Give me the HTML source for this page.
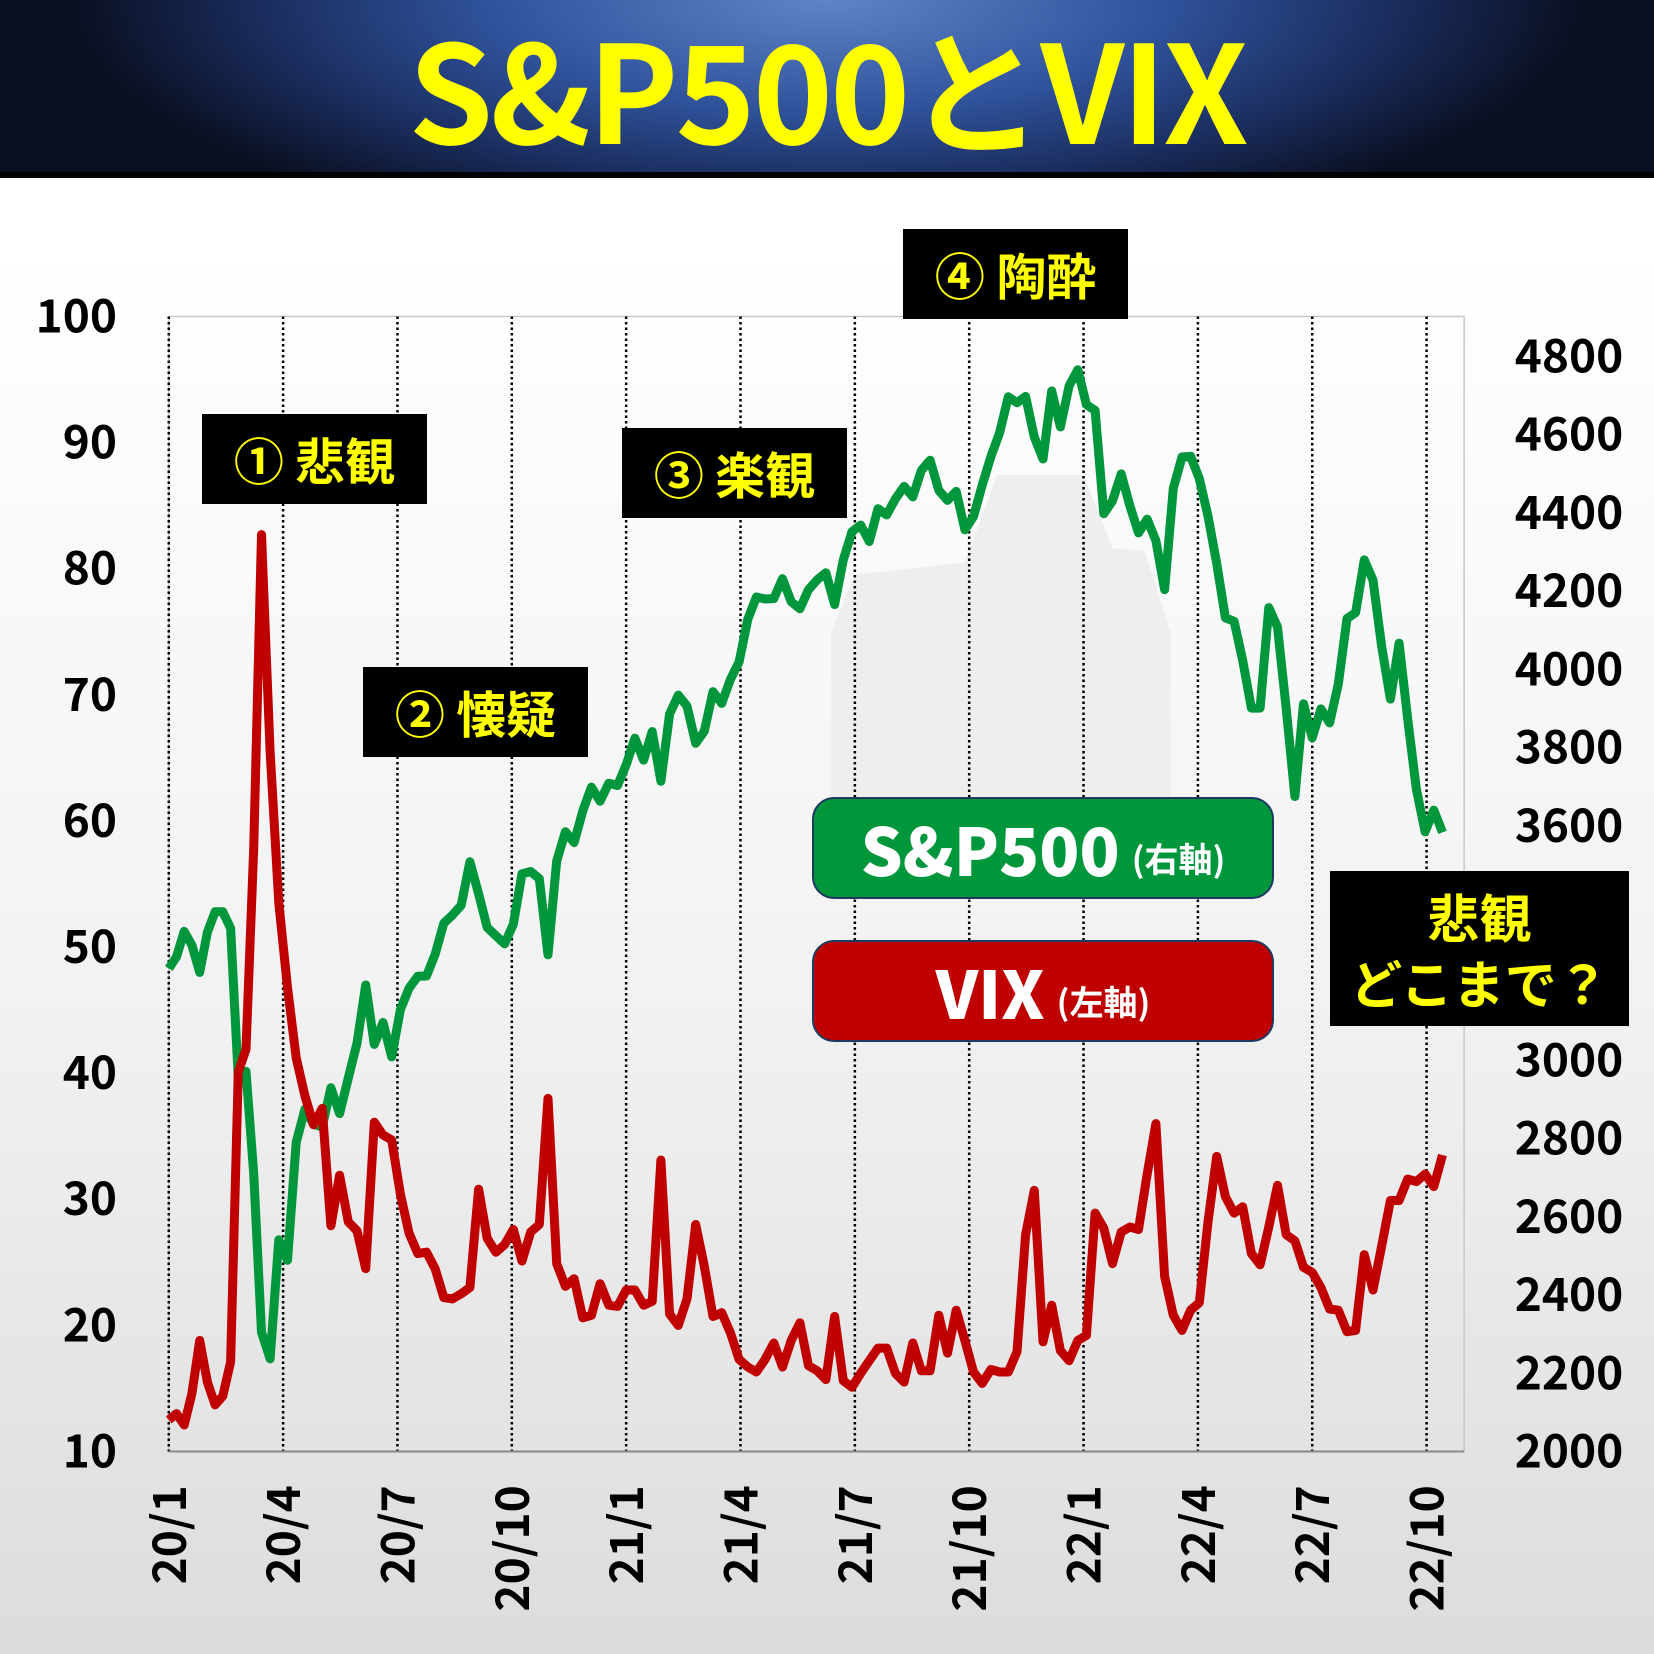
<!DOCTYPE html>
<html><head><meta charset="utf-8">
<style>
html,body{margin:0;padding:0}
body{width:1654px;height:1654px;overflow:hidden;background:linear-gradient(#ffffff 15%,#f2f2f2 60%,#dcdcdc 100%);font-family:"Noto Sans CJK JP","Liberation Sans",sans-serif;position:relative}
#banner{position:absolute;left:0;top:0;width:1654px;height:178px;background:radial-gradient(ellipse 760px 250px at 827px 0px,#6084c8 0%,#2f529b 45%,#1a2c5c 75%,#0a0f20 100%);border-bottom:6px solid #000;box-sizing:border-box}
#title{position:absolute;left:0;width:1654px;top:-4px;text-align:center;color:#ffff00;font-weight:bold;font-size:136px;line-height:180px;letter-spacing:-3px}
.ann{position:absolute;background:#000;color:#ffff00;font-weight:bold;font-size:50px;display:flex;align-items:center;justify-content:center;text-align:center;line-height:62px}
.leg{position:absolute;left:812px;width:462px;height:102px;border-radius:22px;color:#fff;font-weight:bold;display:flex;align-items:center;justify-content:center;box-sizing:border-box;border:2px solid #1f3a60}
.leg b{font-size:66px}.leg span{font-size:34px;margin-left:12px;margin-top:18px}
</style></head><body>
<div id="banner"><div id="title">S&amp;P500とVIX</div></div>
<svg id="chart" width="1654" height="1654" style="position:absolute;left:0;top:0"></svg>
<div class="ann" style="left:202px;top:414px;width:225px;height:90px">① 悲観</div>
<div class="ann" style="left:363px;top:667px;width:225px;height:90px">② 懐疑</div>
<div class="ann" style="left:622px;top:428px;width:225px;height:90px">③ 楽観</div>
<div class="ann" style="left:903px;top:229px;width:225px;height:90px">④ 陶酔</div>
<div class="ann" style="left:1330px;top:871px;width:299px;height:155px;font-size:52px;line-height:66px">悲観<br>どこまで？</div>
<div class="leg" style="top:797px;background:#00963c"><b>S&amp;P500</b><span>(右軸)</span></div>
<div class="leg" style="top:940px;background:#c00000"><b>VIX</b><span>(左軸)</span></div>
<script>
const xLabels=["20/1","20/4","20/7","20/10","21/1","21/4","21/7","21/10","22/1","22/4","22/7","22/10"];
const leftTicks=[10,20,30,40,50,60,70,80,90,100];
const rightTicks=[2000,2200,2400,2600,2800,3000,3200,3400,3600,3800,4000,4200,4400,4600,4800];
const sp500=[3235,3265,3330,3295,3225,3328,3380,3380,3338,2954,2972,2711,2305,2237,2541,2489,2790,2875,2837,2830,2930,2864,2955,3044,3193,3041,3097,3009,3130,3185,3215,3216,3271,3351,3372,3397,3508,3426,3340,3319,3298,3348,3477,3483,3465,3270,3510,3585,3557,3638,3699,3663,3709,3703,3756,
3824,3768,3841,3714,3886,3934,3906,3811,3842,3943,3913,3974,4019,4128,4185,4180,4181,4232,4173,4155,4204,4229,4247,4166,4280,4352,4369,4327,4411,4395,4436,4468,4441,4509,4535,4458,4432,4455,4357,4391,4471,4544,4605,4697,4682,4698,4594,4538,4712,4620,4725,4766,
4677,4662,4398,4431,4500,4418,4349,4384,4329,4204,4463,4543,4545,4488,4392,4271,4132,4123,4023,3901,3901,4158,4108,3900,3675,3912,3825,3899,3863,3962,4130,4145,4280,4228,4058,3924,4067,3873,3693,3585,3640,3583];
const vix=[12.5,13.0,12.1,14.6,18.8,15.5,13.7,14.4,17.1,40.1,41.9,57.8,82.7,65.5,53.5,46.8,41.2,38.2,35.9,37.2,27.9,31.9,28.2,27.5,24.5,36.1,35.1,34.7,30.4,27.3,25.7,25.8,24.5,22.2,22.1,22.5,23.0,30.8,26.9,25.8,26.4,27.6,25.1,27.4,28.0,38.0,24.9,23.1,23.7,20.6,20.8,23.3,21.6,21.5,22.8,
22.8,21.6,21.9,33.1,20.9,20.0,22.1,28.0,24.7,20.7,21.0,19.4,17.3,16.7,16.3,17.3,18.6,16.7,18.8,20.2,16.8,16.4,15.7,20.7,15.6,15.1,16.2,17.2,18.2,18.2,16.2,15.5,18.6,16.4,16.4,20.8,17.8,21.2,18.8,16.3,15.4,16.5,16.3,16.3,17.9,27.2,30.7,18.7,21.6,18.0,17.2,
18.8,19.2,28.9,27.7,24.9,27.4,27.8,27.6,32.0,36.0,23.9,20.8,19.6,21.2,21.8,28.2,33.4,30.2,28.9,29.4,25.7,24.8,27.8,31.1,27.2,26.7,24.6,24.2,23.0,21.3,21.2,19.5,19.6,25.6,22.8,26.3,29.9,29.9,31.6,31.4,32.0,31.0,33.5];
const svg=document.getElementById('chart');const NS='http://www.w3.org/2000/svg';
const S=1654/1568;
const X0=160*S,X1=1388*S,Y0=300*S,Y1=1376*S,QPX=108.4*S,DAY=QPX/91.3;
const N=sp500.length;
const dayOf=i=>i<=12?(74*i/12):(74+(i-12)*(1017-74)/(N-1-12));
const xOf=i=>X0+dayOf(i)*DAY;
const yL=v=>Y1-(v-10)*(Y1-Y0)/90;
const yR=v=>Y1-(v-2000)*(Y1-338*S)/2800;
function mk(t,a,p){const e=document.createElementNS(NS,t);for(const k in a)e.setAttribute(k,a[k]);(p||svg).appendChild(e);return e;}
const shadePts=[[788,600],[810,545],[915,533],[945,450],[1027,450],[1055,520],[1085,522],[1110,600],[1110,755],[788,755]].map(p=>(p[0]*S).toFixed(1)+','+(p[1]*S).toFixed(1)).join(' ');
const shade=mk('polygon',{points:shadePts,fill:'#eeeeee'});


const frame=mk('rect',{x:X0,y:Y0,width:X1-X0,height:Y1-Y0,fill:'none',stroke:'#c8c8c8','stroke-width':1.5});


xLabels.forEach((l,i)=>{const x=X0+i*QPX;
const g=mk('line',{x1:x,y1:Y0,x2:x,y2:Y1,stroke:'#000','stroke-width':2.5,'stroke-dasharray':'2.5 3'});


const t=mk('text',{x:0,y:0,transform:`translate(${(x+17).toFixed(1)},${(1408*S).toFixed(1)}) rotate(-90)`,'text-anchor':'end','font-size':46,'font-weight':'bold',fill:'#000'});t.textContent=l;

});
const ax=mk('line',{x1:X0,y1:Y1,x2:X1,y2:Y1,stroke:'#888','stroke-width':2});


leftTicks.forEach(v=>{const t=mk('text',{x:117,y:yL(v)+16,'text-anchor':'end','font-size':46,'font-weight':'bold',fill:'#000'});t.textContent=v;

});
rightTicks.forEach(v=>{const t=mk('text',{x:1569,y:yR(v)+16,'text-anchor':'middle','font-size':46,'font-weight':'bold',fill:'#000'});t.textContent=v;

});
const spL=mk('polyline',{points:sp500.map((v,i)=>xOf(i).toFixed(1)+','+yR(v).toFixed(1)).join(' '),fill:'none',stroke:'#00963c','stroke-width':9,'stroke-linejoin':'round'});


const vxL=mk('polyline',{points:vix.map((v,i)=>xOf(i).toFixed(1)+','+yL(v).toFixed(1)).join(' '),fill:'none',stroke:'#c00000','stroke-width':9,'stroke-linejoin':'round'});


</script>
</body></html>
